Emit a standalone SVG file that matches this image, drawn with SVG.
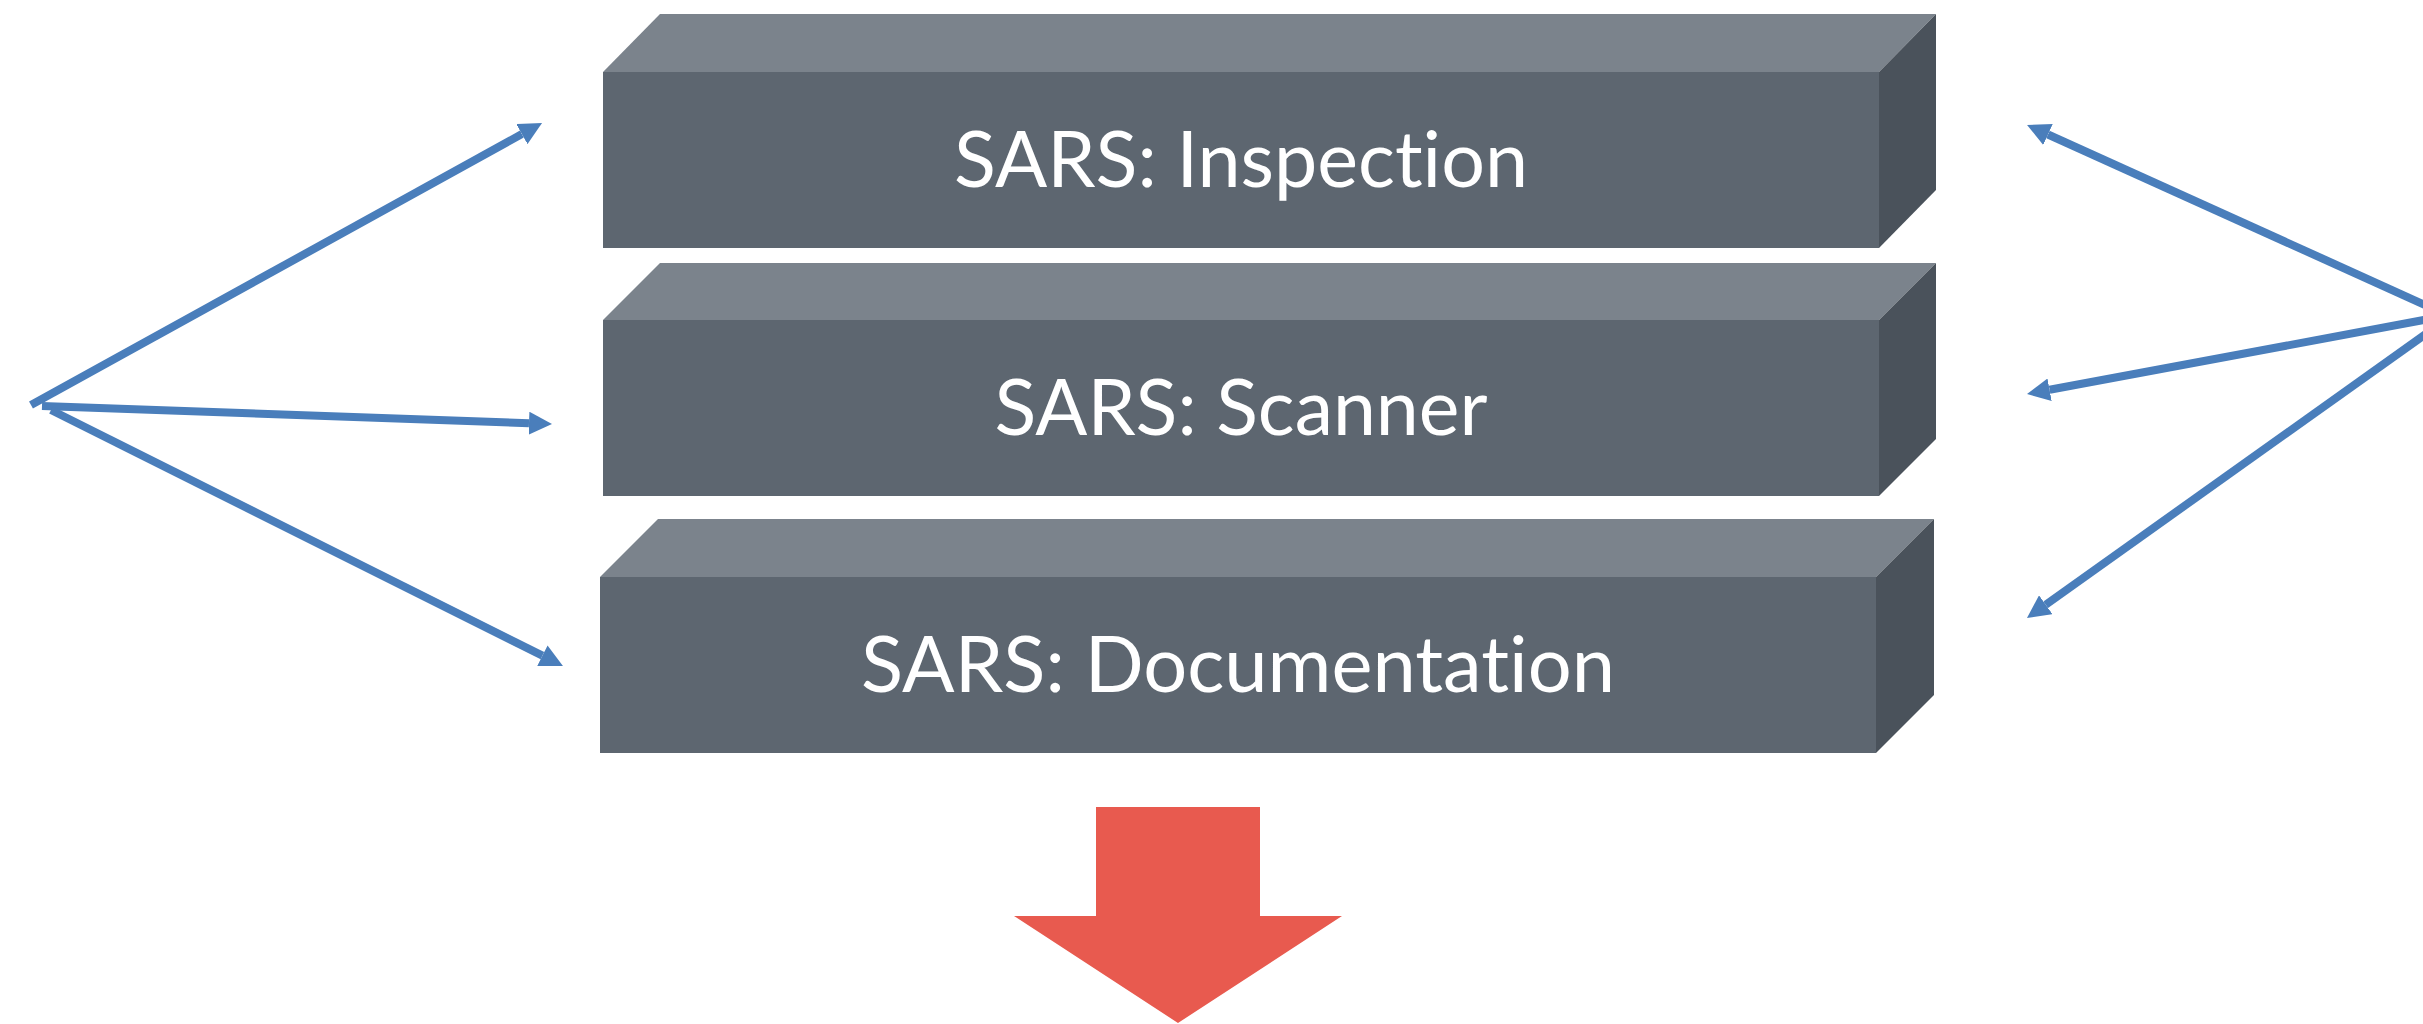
<svg xmlns="http://www.w3.org/2000/svg" width="2423" height="1024" viewBox="0 0 2423 1024">
  <style>
    .top { fill: #7b838c; }
    .front { fill: #5d6670; }
    .side { fill: #4a525b; }
    .label { fill: #ffffff; font-family: "Lato", "Open Sans", sans-serif; font-size: 78px; text-anchor: middle; font-variant-ligatures: none; font-feature-settings: "liga" 0, "clig" 0; }
    .link { stroke: #4a7ebb; stroke-width: 8; fill: none; stroke-linecap: butt; marker-end: url(#head); }
    .down { fill: #e85a4f; }
  </style>
  <defs>
    <marker id="head" markerUnits="userSpaceOnUse" markerWidth="23" markerHeight="23" viewBox="0 0 23 23" refX="0" refY="11.5" orient="auto">
      <path d="M0,0 L23,11.5 L0,23 Z" fill="#4a7ebb"/>
    </marker>
  </defs>
  <rect width="2423" height="1024" fill="#ffffff"/>

  <!-- layer blocks -->
  <g id="inspection">
    <polygon class="top" points="603,72 660,14 1936,14 1879,72"/>
    <polygon class="side" points="1879,72 1936,14 1936,190 1879,248"/>
    <rect class="front" x="603" y="72" width="1276" height="176"/>
    <text class="label" x="1241" y="187" textLength="574" lengthAdjust="spacingAndGlyphs">SARS: Inspection</text>
  </g>
  <g id="scanner">
    <polygon class="top" points="603,320 660,263 1936,263 1879,320"/>
    <polygon class="side" points="1879,320 1936,263 1936,439 1879,496"/>
    <rect class="front" x="603" y="320" width="1276" height="176"/>
    <text class="label" x="1241" y="435" textLength="493" lengthAdjust="spacingAndGlyphs">SARS: Scanner</text>
  </g>
  <g id="documentation">
    <polygon class="top" points="600,577 658,519 1934,519 1876,577"/>
    <polygon class="side" points="1876,577 1934,519 1934,695 1876,753"/>
    <rect class="front" x="600" y="577" width="1276" height="176"/>
    <text class="label" x="1238" y="692" textLength="754" lengthAdjust="spacingAndGlyphs">SARS: Documentation</text>
  </g>

  <!-- big downward arrow -->
  <g id="output-arrow">
    <polygon class="down" points="1096,807 1260,807 1260,916 1342,916 1178,1023 1014,916 1096,916"/>
  </g>

  <!-- connectors -->
  <g id="connectors">
    <line class="link" x1="31" y1="405" x2="521.9" y2="134.1"/>
    <line class="link" x1="42" y1="406" x2="529.0" y2="423.2"/>
    <line class="link" x1="51" y1="410" x2="542.4" y2="655.7"/>
    <line class="link" x1="2440" y1="311.7" x2="2048.0" y2="134.5"/>
    <line class="link" x1="2440" y1="317.0" x2="2049.6" y2="389.8"/>
    <line class="link" x1="2440" y1="323.9" x2="2045.7" y2="604.7"/>
  </g>
</svg>
